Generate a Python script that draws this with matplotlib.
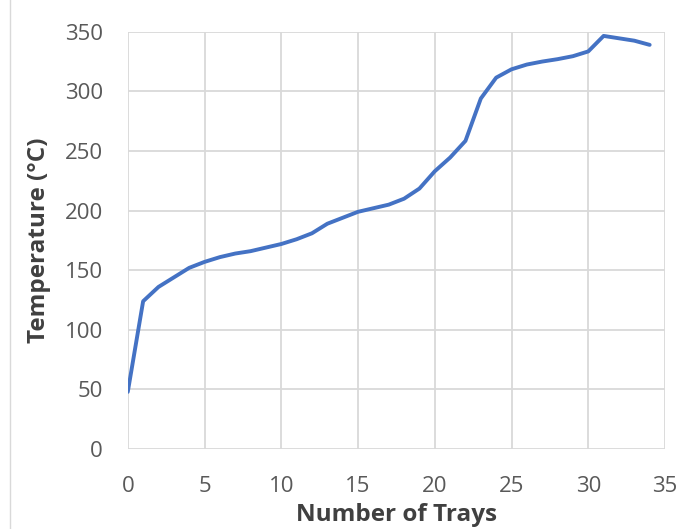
import matplotlib
matplotlib.use("Agg")
import matplotlib.pyplot as plt
from matplotlib.lines import Line2D

trays = list(range(0, 35))
temps = [48, 124, 136, 144, 152, 157, 161, 164, 166, 169, 172, 176, 181, 189, 194,
         199, 202, 205, 210, 218.5, 233, 244.5, 258.5, 294, 311.5, 318.5, 322.5, 325,
         327, 329.5, 333.5, 346.5, 344.5, 342.5, 339]
xticks = [0, 5, 10, 15, 20, 25, 30, 35]
yticks = [0, 50, 100, 150, 200, 250, 300, 350]

plt.rcParams['font.family'] = ['Open Sans', 'DejaVu Sans']

fig = plt.figure(figsize=(6.87, 5.29), dpi=100)
ax = fig.add_axes([0.186, 0.151, 0.782, 0.789])
ax.plot(trays, temps, color='#4472C4', lw=2.8, solid_capstyle='round', zorder=3)
ax.set_xlim(0, 35)
ax.set_ylim(0, 350)
ax.set_xticks(xticks)
ax.set_yticks(yticks)
ax.grid(True, color='#D9D9D9', lw=1.3)
for s in ax.spines.values():
    s.set_visible(False)
ax.tick_params(length=0, labelsize=16, colors='#595959')
ax.tick_params(axis='y', pad=18)
ax.tick_params(axis='x', pad=19)
ax.set_xlabel('Number of Trays', fontsize=17.5, fontweight='bold', color='#404040', labelpad=5)
ax.set_ylabel('Temperature (°C)', fontsize=17.5, fontweight='bold', color='#404040', labelpad=10)
fig.add_artist(Line2D([10/687, 10/687], [0, 1], transform=fig.transFigure, color='#D9D9D9', lw=1))
fig.savefig('out.png', dpi=100)
